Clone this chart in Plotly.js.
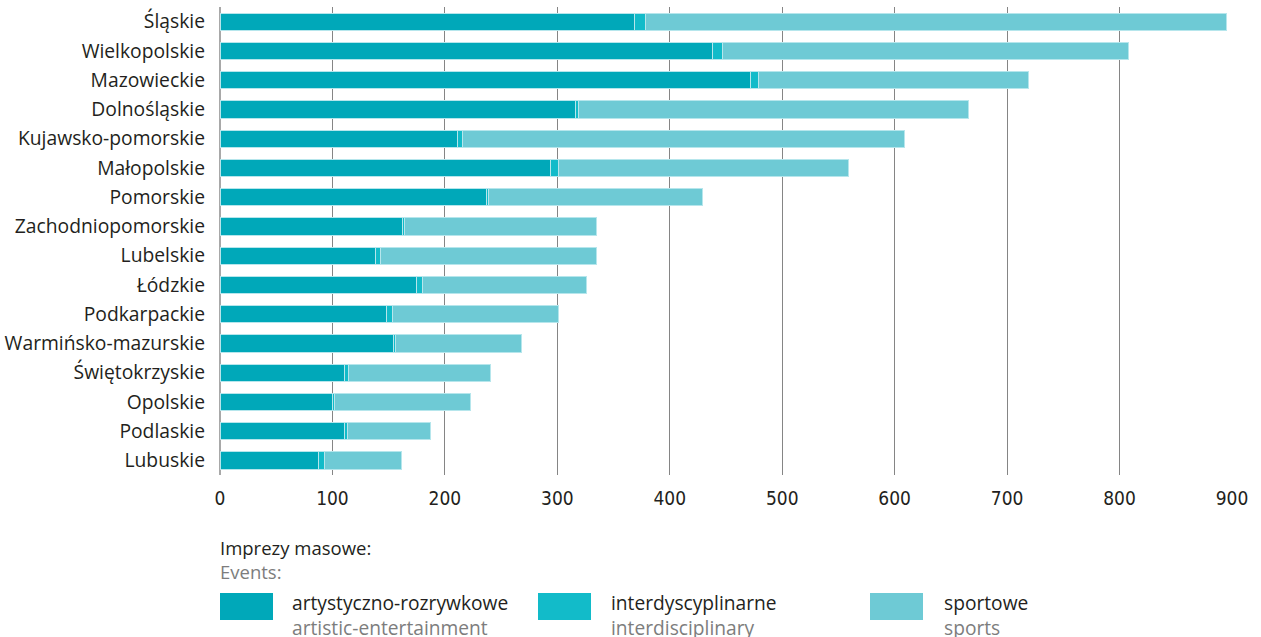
<!DOCTYPE html>
<html>
<head>
<meta charset="utf-8">
<script src="https://cdn.plot.ly/plotly-3.0.1.min.js"></script>
<style>
html,body{margin:0;padding:0;background:#fff;}
#chart{width:1261px;height:637px;}
</style>
</head>
<body>
<div id="chart"></div>
<script>
// Data
const regions = ["Śląskie","Wielkopolskie","Mazowieckie","Dolnośląskie","Kujawsko-pomorskie","Małopolskie","Pomorskie","Zachodniopomorskie","Lubelskie","Łódzkie","Podkarpackie","Warmińsko-mazurskie","Świętokrzyskie","Opolskie","Podlaskie","Lubuskie"];
const artistic = [369,438,472,316,211,294,237,162,138,175,148,154,111,100,111,88];
const interdisciplinary = [9,9,7,3,5,7,2,2,5,5,5,2,3,2,2,5];
const sports = [517,361,240,347,393,258,190,171,192,146,148,112,127,121,74,68];
const xTicks = [0,100,200,300,400,500,600,700,800,900];
const legendTitlePl = "Imprezy masowe:";
const legendTitleEn = "Events:";
const seriesPl = ["artystyczno-rozrywkowe","interdyscyplinarne","sportowe"];
const seriesEn = ["artistic-entertainment","interdisciplinary","sports"];
const colors = ["#00a8b9","#12bbc9","#6ecad5"];

const FONT = "Open Sans, sans-serif";
const BLACK = "#231f20";
const GRAY = "#7d7d7d";

const W = 1261, H = 637;
const L = 220, R = 29, T = 7, B = 162;
const pw = W - L - R, ph = H - T - B;
const px = x => (x - L) / pw;
const py = y => (H - B - y) / ph;

const seriesVals = [artistic, interdisciplinary, sports];
const traces = seriesVals.map((vals, i) => ({
  type: "bar",
  orientation: "h",
  y: regions,
  x: vals,
  name: seriesPl[i],
  marker: {color: colors[i], line: {color: "#b6e6ec", width: 1}},
  hoverinfo: "x+y+name"
}));

const twoLine = (pl, en) => pl + "<br><span style='color:" + GRAY + "'>" + en + "</span>";

const annotations = [{
  xref: "paper", yref: "paper", x: px(219), y: py(534), xanchor: "left", yanchor: "top",
  align: "left", showarrow: false, borderpad: 0,
  text: twoLine(legendTitlePl, legendTitleEn),
  font: {family: FONT, size: 18.5, color: BLACK}
}];

const boxX = [220, 538, 870];
const textX = [291, 610, 943];
const shapes = [];
for (let i = 0; i < 3; i++) {
  shapes.push({type: "rect", xref: "paper", yref: "paper", x0: px(boxX[i]), x1: px(boxX[i] + 53), y0: py(593), y1: py(620), fillcolor: colors[i], line: {width: 0}});
  annotations.push({
    xref: "paper", yref: "paper", x: px(textX[i]), y: py(588), xanchor: "left", yanchor: "top",
    align: "left", showarrow: false, borderpad: 0,
    text: twoLine(seriesPl[i], seriesEn[i]),
    font: {family: FONT, size: 19.2, color: BLACK}
  });
}

const layout = {
  width: W, height: H,
  margin: {l: L, r: R, t: T, b: B, pad: 0},
  paper_bgcolor: "#fff", plot_bgcolor: "#fff",
  barmode: "stack",
  bargap: 0.41,
  showlegend: false,
  font: {family: FONT, color: BLACK},
  xaxis: {
    range: [0, 900],
    tickvals: xTicks,
    ticktext: xTicks.map(String),
    showgrid: true, gridcolor: "#858585", gridwidth: 1.2,
    zeroline: true, zerolinecolor: "#a8a8a8", zerolinewidth: 1.2,
    showline: false, ticks: "",
    ticklabelstandoff: 10,
    tickfont: {family: "DejaVu Sans Condensed, Open Sans, sans-serif", size: 19, color: BLACK},
    fixedrange: true
  },
  yaxis: {
    autorange: "reversed",
    categoryorder: "array", categoryarray: regions,
    showgrid: false, zeroline: false, showline: false, ticks: "",
    ticklabelstandoff: 14,
    tickfont: {family: FONT, size: 19.3, color: BLACK},
    fixedrange: true
  },
  shapes: shapes,
  annotations: annotations
};

Plotly.newPlot("chart", traces, layout, {displayModeBar: false, staticPlot: true});
</script>
</body>
</html>
